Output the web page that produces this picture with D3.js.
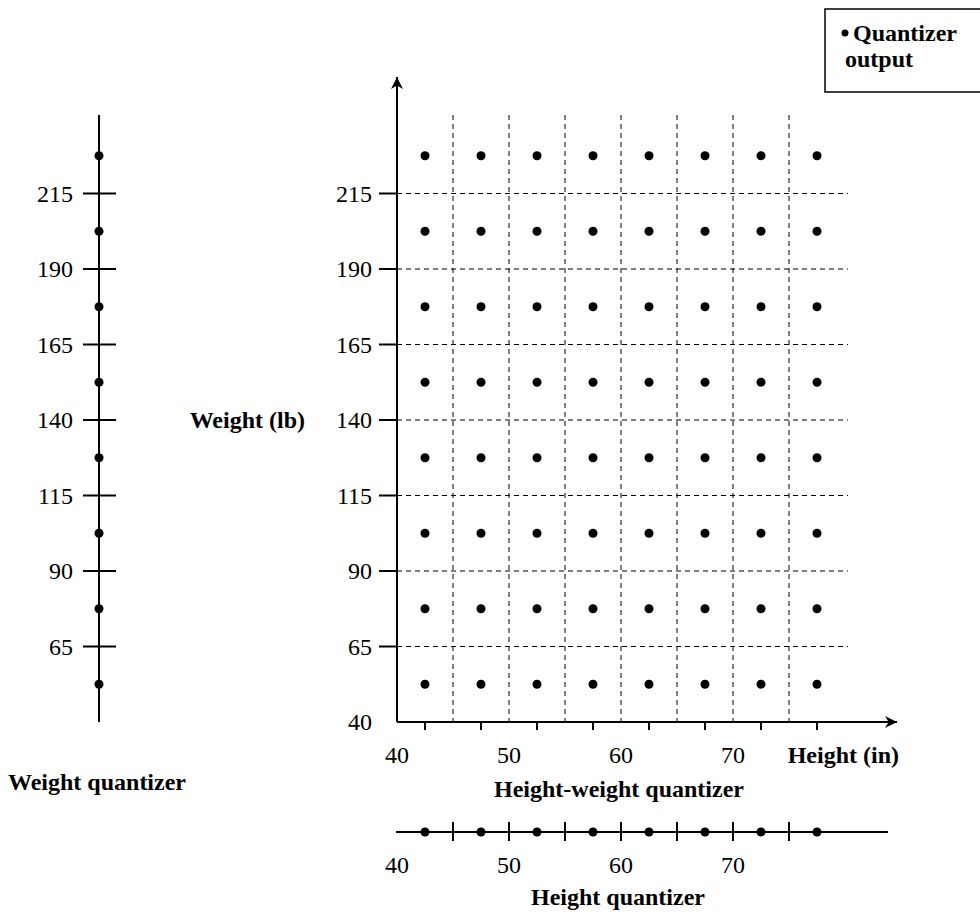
<!DOCTYPE html>
<html>
<head>
<meta charset="utf-8">
<script src="https://cdn.jsdelivr.net/npm/d3@7"></script>
<style>
  body { margin: 0; background: #fff; }
  text { font-family: "Liberation Serif", "Times New Roman", serif; fill: #000; }
  .bold { font-weight: bold; }
</style>
</head>
<body>
<div id="chart"></div>
<script>
// quantizer cells
var heightBounds = [45, 50, 55, 60, 65, 70, 75];
var weightBounds = [65, 90, 115, 140, 165, 190, 215];
var heightOutputs = [42.5, 47.5, 52.5, 57.5, 62.5, 67.5, 72.5, 77.5];
var weightOutputs = [52.5, 77.5, 102.5, 127.5, 152.5, 177.5, 202.5, 227.5];
var heightLabels = [40, 50, 60, 70];
var weightLabels = [40, 65, 90, 115, 140, 165, 190, 215];

var w = 980, h = 912;
var fs = "24px";

var svg = d3.select("#chart")
    .append("svg")
    .attr("width", w)
    .attr("height", h);

var x = d3.scaleLinear().domain([40, 80]).range([397, 845]);
var y = d3.scaleLinear().domain([40, 240]).range([722, 118]);

svg.append("defs").append("marker")
    .attr("id", "arrow")
    .attr("viewBox", "0 0 10 10")
    .attr("refX", 10)
    .attr("refY", 5)
    .attr("markerWidth", 18)
    .attr("markerHeight", 12)
    .attr("markerUnits", "userSpaceOnUse")
    .attr("orient", "auto")
    .append("path")
    .attr("d", "M0,0 L10,5 L0,10 L3,5 Z")
    .attr("fill", "#000");

// ---- main grid ----
svg.selectAll(".vgrid")
    .data(heightBounds)
    .enter()
    .append("line")
    .attr("x1", function (d) { return x(d); })
    .attr("x2", function (d) { return x(d); })
    .attr("y1", 115)
    .attr("y2", y(40))
    .attr("stroke", "#000")
    .attr("stroke-width", 1)
    .attr("stroke-dasharray", "5,4");

svg.selectAll(".hgrid")
    .data(weightBounds)
    .enter()
    .append("line")
    .attr("x1", x(40))
    .attr("x2", 848)
    .attr("y1", function (d) { return y(d); })
    .attr("y2", function (d) { return y(d); })
    .attr("stroke", "#000")
    .attr("stroke-width", 1)
    .attr("stroke-dasharray", "5,4");

// axes with arrows
svg.append("line")
    .attr("x1", x(40)).attr("y1", y(40))
    .attr("x2", x(40)).attr("y2", 77)
    .attr("stroke", "#000").attr("stroke-width", 2)
    .attr("marker-end", "url(#arrow)");
svg.append("line")
    .attr("x1", x(40)).attr("y1", y(40))
    .attr("x2", 897).attr("y2", y(40))
    .attr("stroke", "#000").attr("stroke-width", 2)
    .attr("marker-end", "url(#arrow)");

// y ticks (at cell bounds)
svg.selectAll(".ytick")
    .data(weightBounds)
    .enter()
    .append("line")
    .attr("x1", x(40) - 18)
    .attr("x2", x(40))
    .attr("y1", function (d) { return y(d); })
    .attr("y2", function (d) { return y(d); })
    .attr("stroke", "#000").attr("stroke-width", 2);

// x ticks (at outputs)
svg.selectAll(".xtick")
    .data(heightOutputs)
    .enter()
    .append("line")
    .attr("x1", function (d) { return x(d); })
    .attr("x2", function (d) { return x(d); })
    .attr("y1", y(40))
    .attr("y2", y(40) + 8)
    .attr("stroke", "#000").attr("stroke-width", 2);

svg.selectAll(".ylab")
    .data(weightLabels)
    .enter()
    .append("text")
    .attr("x", 372)
    .attr("y", function (d) { return y(d); })
    .attr("dy", "0.35em")
    .attr("text-anchor", "end")
    .attr("font-size", fs)
    .text(function (d) { return d; });

svg.selectAll(".xlab")
    .data(heightLabels)
    .enter()
    .append("text")
    .attr("x", function (d) { return x(d); })
    .attr("y", 763)
    .attr("text-anchor", "middle")
    .attr("font-size", fs)
    .text(function (d) { return d; });

// grid of outputs
var pts = [];
weightOutputs.forEach(function (wv) {
    heightOutputs.forEach(function (hv) { pts.push([hv, wv]); });
});
svg.selectAll(".pt")
    .data(pts)
    .enter()
    .append("circle")
    .attr("cx", function (d) { return x(d[0]); })
    .attr("cy", function (d) { return y(d[1]); })
    .attr("r", 4.5)
    .attr("fill", "#000");

svg.append("text").attr("class", "bold")
    .attr("x", 305).attr("y", 428)
    .attr("text-anchor", "end").attr("font-size", fs)
    .text("Weight (lb)");
svg.append("text").attr("class", "bold")
    .attr("x", 899).attr("y", 763)
    .attr("text-anchor", "end").attr("font-size", fs)
    .text("Height (in)");
svg.append("text").attr("class", "bold")
    .attr("x", 619).attr("y", 797)
    .attr("text-anchor", "middle").attr("font-size", fs)
    .text("Height-weight quantizer");

// ---- weight quantizer (left) ----
var lx = 99;
svg.append("line")
    .attr("x1", lx).attr("x2", lx)
    .attr("y1", 115).attr("y2", y(40))
    .attr("stroke", "#000").attr("stroke-width", 2);
svg.selectAll(".wtick")
    .data(weightBounds)
    .enter()
    .append("line")
    .attr("x1", lx - 16).attr("x2", lx + 17)
    .attr("y1", function (d) { return y(d); })
    .attr("y2", function (d) { return y(d); })
    .attr("stroke", "#000").attr("stroke-width", 2);
svg.selectAll(".wlab")
    .data(weightBounds)
    .enter()
    .append("text")
    .attr("x", 73)
    .attr("y", function (d) { return y(d); })
    .attr("dy", "0.35em")
    .attr("text-anchor", "end")
    .attr("font-size", fs)
    .text(function (d) { return d; });
svg.selectAll(".wpt")
    .data(weightOutputs)
    .enter()
    .append("circle")
    .attr("cx", lx)
    .attr("cy", function (d) { return y(d); })
    .attr("r", 4.5)
    .attr("fill", "#000");
svg.append("text").attr("class", "bold")
    .attr("x", 8).attr("y", 790)
    .attr("font-size", fs)
    .text("Weight quantizer");

// ---- height quantizer (bottom) ----
var by = 832;
svg.append("line")
    .attr("x1", 396).attr("x2", 888)
    .attr("y1", by).attr("y2", by)
    .attr("stroke", "#000").attr("stroke-width", 2);
svg.selectAll(".htick")
    .data(heightBounds)
    .enter()
    .append("line")
    .attr("x1", function (d) { return x(d); })
    .attr("x2", function (d) { return x(d); })
    .attr("y1", by - 10).attr("y2", by + 9)
    .attr("stroke", "#000").attr("stroke-width", 2);
svg.selectAll(".hpt")
    .data(heightOutputs)
    .enter()
    .append("circle")
    .attr("cx", function (d) { return x(d); })
    .attr("cy", by)
    .attr("r", 4.5)
    .attr("fill", "#000");
svg.selectAll(".hlab")
    .data(heightLabels)
    .enter()
    .append("text")
    .attr("x", function (d) { return x(d); })
    .attr("y", 873)
    .attr("text-anchor", "middle")
    .attr("font-size", fs)
    .text(function (d) { return d; });
svg.append("text").attr("class", "bold")
    .attr("x", 618).attr("y", 905)
    .attr("text-anchor", "middle").attr("font-size", fs)
    .text("Height quantizer");

// ---- legend ----
var lg = svg.append("g");
lg.append("rect")
    .attr("x", 825).attr("y", 9)
    .attr("width", 170).attr("height", 83)
    .attr("fill", "#fff").attr("stroke", "#000").attr("stroke-width", 1.5);
lg.append("circle")
    .attr("cx", 845).attr("cy", 33).attr("r", 3.5).attr("fill", "#000");
lg.append("text").attr("class", "bold")
    .attr("x", 853).attr("y", 41).attr("font-size", fs)
    .text("Quantizer");
lg.append("text").attr("class", "bold")
    .attr("x", 845).attr("y", 67).attr("font-size", fs)
    .text("output");
</script>
</body>
</html>
